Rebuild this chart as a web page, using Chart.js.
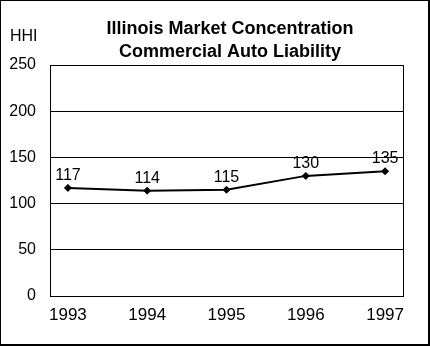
<!DOCTYPE html>
<html>
<head>
<meta charset="utf-8">
<script src="https://cdn.jsdelivr.net/npm/chart.js@4/dist/chart.umd.min.js"></script>
<style>
  html, body { margin: 0; padding: 0; background: #fff; }
  #wrap { width: 430px; height: 346px; position: relative; }
</style>
</head>
<body>
<div id="wrap"><canvas id="myChart" width="430" height="346"></canvas></div>
<script>
// chart data
const years = [1993, 1994, 1995, 1996, 1997];
const hhi = [117, 114, 115, 130, 135];
const yTicks = [0, 50, 100, 150, 200, 250];
const titleLines = ['Illinois Market Concentration', 'Commercial Auto Liability'];
const yAxisLabel = 'HHI';

const FONT = '"Liberation Sans", Arial, sans-serif';

// white background, outer frame, plot frame, title, axis label
const framePlugin = {
    id: 'frame',
    beforeDraw(chart) {
        const c = chart.ctx;
        c.save();
        c.fillStyle = '#fff';
        c.fillRect(0, 0, chart.width, chart.height);
        c.restore();
    },
    afterDraw(chart) {
        const c = chart.ctx;
        const a = chart.chartArea;
        c.save();
        c.strokeStyle = '#000';
        c.lineWidth = 1;
        c.strokeRect(Math.round(a.left) + 0.5, Math.round(a.top) + 0.5,
            Math.round(a.right - a.left), Math.round(a.bottom - a.top));
        // outer border
        c.fillStyle = '#000';
        c.fillRect(0, 0, chart.width, 1);
        c.fillRect(0, 0, 1, chart.height);
        c.fillRect(chart.width - 2, 0, 2, chart.height);
        c.fillRect(0, chart.height - 2, chart.width, 2);
        // title
        c.font = 'bold 18px ' + FONT;
        c.textAlign = 'center';
        c.textBaseline = 'alphabetic';
        c.fillText(titleLines[0], 230, 34);
        c.fillText(titleLines[1], 230, 57);
        // HHI
        c.font = '16px ' + FONT;
        c.textAlign = 'left';
        c.fillText(yAxisLabel, 10, 41);
        c.restore();
    },
    afterDatasetsDraw(chart) {
        const c = chart.ctx;
        const meta = chart.getDatasetMeta(0);
        c.save();
        c.fillStyle = '#000';
        c.font = '16px ' + FONT;
        c.textAlign = 'center';
        c.textBaseline = 'alphabetic';
        meta.data.forEach((pt, i) => {
            c.fillText(String(hhi[i]), pt.x, pt.y - 8);
        });
        c.restore();
    }
};

const ctx = document.getElementById('myChart');
new Chart(ctx, {
    type: 'line',
    data: {
        datasets: [{
            data: years.map((y, i) => ({ x: y, y: hhi[i] })),
            borderColor: '#000',
            borderWidth: 2,
            backgroundColor: '#000',
            pointStyle: 'rectRot',
            pointRadius: 3.5,
            pointBorderWidth: 1,
            pointBorderColor: '#000',
            pointBackgroundColor: '#000',
            tension: 0
        }]
    },
    options: {
        responsive: false,
        animation: false,
        events: [],
        layout: {
            padding: { left: 0, right: 27, top: 65, bottom: 10 }
        },
        plugins: {
            legend: { display: false },
            title: { display: false },
            tooltip: { enabled: false }
        },
        scales: {
            x: {
                type: 'linear',
                min: 1992.774,
                max: 1997.226,
                afterBuildTicks(axis) {
                    axis.ticks = years.map(v => ({ value: v }));
                },
                afterFit(axis) { axis.height = 40; },
                grid: { display: false, drawTicks: false },
                border: { display: true, color: '#000', width: 1 },
                ticks: {
                    color: '#000',
                    font: { family: FONT, size: 17 },
                    padding: 9,
                    maxRotation: 0,
                    autoSkip: false,
                    callback: (v) => String(v)
                }
            },
            y: {
                min: 0,
                max: 250,
                afterBuildTicks(axis) {
                    axis.ticks = yTicks.map(v => ({ value: v }));
                },
                afterFit(axis) { axis.width = 50; },
                grid: { color: '#000', lineWidth: 1, drawTicks: false },
                border: { display: true, color: '#000', width: 1 },
                ticks: {
                    color: '#000',
                    font: { family: FONT, size: 16 },
                    padding: 14
                }
            }
        }
    },
    plugins: [framePlugin]
});
</script>
</body>
</html>
